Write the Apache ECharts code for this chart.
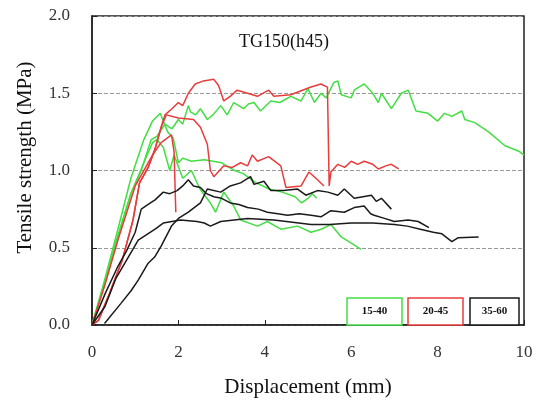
<!DOCTYPE html>
<html>
<head>
<meta charset="utf-8">
<script src="https://cdn.jsdelivr.net/npm/echarts@6/dist/echarts.min.js"></script>
<style>
  html, body { margin: 0; padding: 0; background: #fff; }
  #main { width: 542px; height: 404px; }
</style>
</head>
<body>
<div id="main"></div>
<script>
// 15-40 (green)
var g1 = [[0,0],[0.3,0.28],[0.6,0.58],[0.9,0.85],[1.14,1.0],[1.37,1.2],[1.5,1.22],[1.69,1.3],[1.85,1.27],[2.0,1.33],[2.1,1.3],[2.23,1.42],[2.28,1.38],[2.4,1.36],[2.51,1.4],[2.67,1.33],[2.8,1.36],[2.98,1.42],[3.13,1.36],[3.28,1.44],[3.51,1.4],[3.62,1.43],[3.75,1.44],[3.9,1.385],[4.14,1.45],[4.35,1.44],[4.6,1.48],[4.84,1.45],[5.0,1.53],[5.15,1.44],[5.3,1.5],[5.42,1.47],[5.6,1.57],[5.69,1.58],[5.77,1.49],[6.0,1.47],[6.07,1.52],[6.3,1.56],[6.47,1.51],[6.63,1.44],[6.7,1.5],[6.93,1.4],[7.16,1.5],[7.32,1.52],[7.5,1.385],[7.78,1.37],[8.0,1.32],[8.16,1.37],[8.33,1.35],[8.56,1.385],[8.63,1.33],[8.86,1.31],[9.18,1.25],[9.56,1.16],[9.88,1.125],[10,1.1]];
var g2 = [[0,0],[0.3,0.3],[0.6,0.62],[0.9,0.95],[1.2,1.2],[1.4,1.32],[1.58,1.37],[1.75,1.25],[1.88,1.21],[2.0,1.05],[2.1,1.08],[2.3,1.06],[2.6,1.07],[3.0,1.05],[3.3,1.0],[3.5,0.98],[3.8,0.92],[4.1,0.88],[4.4,0.86],[4.7,0.83],[4.85,0.79],[5.0,0.82],[5.1,0.85],[5.2,0.82]];
var g3 = [[0,0],[0.3,0.27],[0.6,0.57],[0.9,0.85],[1.2,1.05],[1.4,1.18],[1.5,1.2],[1.65,1.15],[1.8,1.0],[1.9,1.1],[2.1,0.95],[2.3,1.0],[2.5,0.88],[2.74,0.79],[2.86,0.73],[3.05,0.86],[3.28,0.77],[3.44,0.68],[3.83,0.64],[4.06,0.67],[4.37,0.62],[4.76,0.64],[5.07,0.6],[5.3,0.62],[5.53,0.65],[5.77,0.57],[6.0,0.53],[6.23,0.49]];
// 20-45 (red)
var r1 = [[0,0],[0.15,0.03],[0.4,0.2],[0.7,0.42],[0.95,0.68],[1.1,0.92],[1.3,1.02],[1.46,1.14],[1.6,1.28],[1.69,1.36],[1.85,1.4],[2.0,1.44],[2.1,1.42],[2.23,1.5],[2.39,1.56],[2.58,1.58],[2.82,1.59],[2.93,1.55],[3.05,1.45],[3.2,1.48],[3.36,1.52],[3.6,1.5],[3.83,1.48],[4.09,1.52],[4.21,1.48],[4.6,1.49],[5.07,1.54],[5.3,1.56],[5.45,1.54],[5.49,0.9],[5.53,0.99],[5.69,1.04],[5.85,1.02],[6.0,1.06],[6.15,1.04],[6.3,1.06],[6.5,1.04],[6.63,1.01],[6.8,1.03],[6.93,1.04],[7.1,1.01]];
var r2 = [[0,0],[0.15,0.03],[0.4,0.2],[0.7,0.42],[0.95,0.68],[1.1,0.92],[1.3,1.02],[1.46,1.14],[1.6,1.28],[1.72,1.36],[2.0,1.34],[2.35,1.33],[2.51,1.28],[2.67,1.17],[2.74,1.0],[2.82,0.96],[3.05,1.03],[3.25,1.02],[3.44,1.05],[3.6,1.03],[3.71,1.1],[3.83,1.06],[4.09,1.09],[4.37,1.03],[4.49,0.89],[4.84,0.9],[5.02,0.99],[5.22,0.94],[5.37,0.9]];
var r3 = [[0,0],[0.3,0.26],[0.6,0.55],[1.0,0.9],[1.4,1.1],[1.6,1.18],[1.84,1.23],[1.9,1.12],[1.94,0.73]];
// 35-60 (black)
var b1 = [[0,0],[0.3,0.2],[0.6,0.38],[0.8,0.48],[1.0,0.6],[1.14,0.75],[1.3,0.78],[1.46,0.81],[1.65,0.86],[1.8,0.85],[1.97,0.87],[2.1,0.9],[2.23,0.94],[2.35,0.9],[2.51,0.89],[2.65,0.85],[2.82,0.83],[3.0,0.82],[3.2,0.79],[3.4,0.78],[3.6,0.76],[3.85,0.75],[4.06,0.73],[4.3,0.72],[4.53,0.71],[4.8,0.72],[5.07,0.71],[5.3,0.7],[5.53,0.74],[5.84,0.73],[6.07,0.76],[6.3,0.77],[6.45,0.72],[6.53,0.71],[6.77,0.69],[7.0,0.67],[7.32,0.68],[7.55,0.67],[7.8,0.63]];
var b2 = [[0.29,0.01],[0.67,0.14],[0.9,0.22],[1.07,0.29],[1.3,0.4],[1.45,0.44],[1.6,0.51],[1.84,0.64],[2.0,0.69],[2.23,0.73],[2.51,0.79],[2.67,0.88],[2.98,0.86],[3.2,0.9],[3.44,0.92],[3.67,0.96],[3.75,0.91],[3.98,0.93],[4.14,0.87],[4.44,0.87],[4.76,0.88],[4.95,0.84],[5.22,0.87],[5.46,0.86],[5.69,0.84],[5.84,0.88],[6.07,0.82],[6.47,0.84],[6.58,0.8],[6.7,0.82],[6.93,0.75]];
var b3 = [[0,0],[0.3,0.12],[0.55,0.3],[0.76,0.4],[1.07,0.55],[1.46,0.62],[1.65,0.66],[2.05,0.68],[2.43,0.67],[2.6,0.66],[2.74,0.64],[2.98,0.67],[3.6,0.69],[4.21,0.68],[5.07,0.65],[5.5,0.65],[6.0,0.66],[6.5,0.66],[7.0,0.65],[7.3,0.64],[7.6,0.62],[7.9,0.6],[8.1,0.59],[8.33,0.54],[8.48,0.565],[8.95,0.57]];

var groups = ["15-40", "20-45", "35-60"];
var colors = ["#44dd44", "#e83c3c", "#1a1a1a"];
var xTicks = [0, 2, 4, 6, 8, 10];
var yTicks = [0, 0.5, 1.0, 1.5, 2.0];

var font = "'Liberation Serif', 'DejaVu Serif', serif";
var myChart = echarts.init(document.getElementById("main"));

function line(data, idx) {
    return {
        name: groups[idx],
        type: "line",
        data: data,
        symbol: "none",
        animation: false,
        lineStyle: { color: colors[idx], width: 1.5 }
    };
}

// legend boxes
var boxes = [];
var bx = [347, 408, 470];
var bw = [55, 55, 49];
groups.forEach(function (g, i) {
    boxes.push({
        type: "rect",
        shape: { x: bx[i], y: 298, width: bw[i], height: 27 },
        style: { fill: "#fff", stroke: colors[i], lineWidth: 1.5 },
        z: 100
    });
    boxes.push({
        type: "text",
        x: bx[i] + bw[i] / 2,
        y: 311.5,
        style: {
            text: g, fill: "#111", font: "bold 11px " + font,
            align: "center", verticalAlign: "middle"
        },
        z: 101
    });
});

myChart.setOption({
    animation: false,
    grid: {
        left: 92, right: 18, top: 16, bottom: 79,
        show: true, borderColor: "#222", borderWidth: 1.5
    },
    title: {
        text: "TG150(h45)",
        left: 279, top: 28,
        textAlign: "center",
        textStyle: { fontFamily: font, fontSize: 18, fontWeight: "normal", color: "#111" }
    },
    xAxis: {
        type: "value",
        min: 0, max: 10, interval: 2,
        name: "Displacement (mm)",
        nameLocation: "middle",
        nameGap: 52,
        nameTextStyle: { fontFamily: font, fontSize: 21, color: "#111" },
        axisLine: { lineStyle: { color: "#222", width: 1.5 } },
        axisTick: { inside: true, length: 5, lineStyle: { color: "#222" } },
        axisLabel: { fontFamily: font, fontSize: 17, color: "#333", margin: 19 },
        splitLine: { show: false }
    },
    yAxis: {
        type: "value",
        min: 0, max: 2, interval: 0.5,
        name: "Tensile strength (MPa)",
        nameLocation: "middle",
        nameGap: 56,
        nameTextStyle: { fontFamily: font, fontSize: 21, color: "#111", padding: [0, 0, 0, 26] },
        axisLine: { show: true, lineStyle: { color: "#222", width: 1.5 } },
        axisTick: { show: true, inside: true, length: 5, lineStyle: { color: "#222" } },
        axisLabel: {
            fontFamily: font, fontSize: 17, color: "#333", margin: 22,
            formatter: function (v) { return v.toFixed(1); }
        },
        splitLine: { show: true, lineStyle: { color: "#999", type: "dashed", width: 1 } }
    },
    series: [
        line(g1, 0), line(g2, 0), line(g3, 0),
        line(r1, 1), line(r2, 1), line(r3, 1),
        line(b1, 2), line(b2, 2), line(b3, 2)
    ],
    graphic: boxes
});
</script>
</body>
</html>
